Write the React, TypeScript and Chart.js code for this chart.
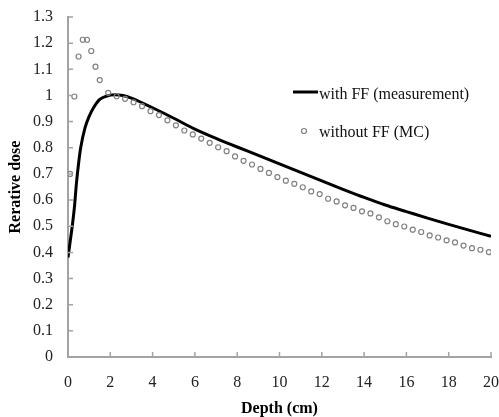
import React, { useEffect, useRef } from "react";
import { Chart, registerables } from "chart.js";

Chart.register(...registerables);

// Measurement with flattening filter (solid line)
const lineDepth = [0, 0.1, 0.2, 0.3, 0.4, 0.5, 0.6, 0.8, 1.0, 1.2, 1.5, 1.8, 2.2, 2.6, 3, 3.5, 4, 5, 6, 7, 8, 9, 10, 11, 12, 13, 14, 15, 16, 17, 18, 19, 20];
const lineDose = [0.38, 0.44, 0.5, 0.57, 0.665, 0.74, 0.8, 0.875, 0.92, 0.952, 0.985, 0.997, 1.003, 1.0, 0.99, 0.972, 0.953, 0.913, 0.871, 0.836, 0.803, 0.771, 0.738, 0.706, 0.673, 0.641, 0.61, 0.581, 0.556, 0.531, 0.507, 0.484, 0.461];

// Monte Carlo without flattening filter (open circles)
const mcDepth = [0.1, 0.3, 0.5, 0.7, 0.9, 1.1, 1.3, 1.5, 1.9, 2.3, 2.7, 3.1, 3.5, 3.9, 4.3, 4.7, 5.1, 5.5, 5.9, 6.3, 6.7, 7.1, 7.5, 7.9, 8.3, 8.7, 9.1, 9.5, 9.9, 10.3, 10.7, 11.1, 11.5, 11.9, 12.3, 12.7, 13.1, 13.5, 13.9, 14.3, 14.7, 15.1, 15.5, 15.9, 16.3, 16.7, 17.1, 17.5, 17.9, 18.3, 18.7, 19.1, 19.5, 19.9];
const mcDose = [0.7, 0.996, 1.149, 1.213, 1.213, 1.17, 1.11, 1.059, 1.01, 0.997, 0.987, 0.974, 0.959, 0.94, 0.925, 0.905, 0.886, 0.866, 0.851, 0.835, 0.819, 0.802, 0.787, 0.767, 0.75, 0.736, 0.719, 0.704, 0.688, 0.674, 0.662, 0.649, 0.633, 0.623, 0.605, 0.595, 0.58, 0.57, 0.557, 0.549, 0.534, 0.519, 0.508, 0.499, 0.487, 0.478, 0.465, 0.457, 0.446, 0.438, 0.426, 0.416, 0.41, 0.401];

const legendLabels = ["with FF (measurement)", "without FF (MC)"];
const xTitle = "Depth (cm)";
const yTitle = "Rerative dose";

const FONT = "'Liberation Serif', 'Times New Roman', serif";
const AXIS_COLOR = "#a3a3a3";

const inwardTicks = {
  id: "inwardTicks",
  afterDraw(chart: any) {
    const { ctx, chartArea, scales } = chart;
    const x = scales.x;
    const y = scales.y;
    ctx.save();
    ctx.strokeStyle = AXIS_COLOR;
    ctx.lineWidth = 1.5;
    ctx.beginPath();
    y.ticks.forEach((t: any) => {
      const py = y.getPixelForValue(t.value);
      ctx.moveTo(chartArea.left, py);
      ctx.lineTo(chartArea.left + 5, py);
    });
    x.ticks.forEach((t: any) => {
      const px = x.getPixelForValue(t.value);
      ctx.moveTo(px, chartArea.bottom);
      ctx.lineTo(px, chartArea.bottom - 5);
    });
    ctx.stroke();
    ctx.restore();
  },
};

const customLegend = {
  id: "customLegend",
  afterDraw(chart: any) {
    const { ctx } = chart;
    ctx.save();
    ctx.font = `16px ${FONT}`;
    ctx.textBaseline = "middle";
    ctx.textAlign = "left";
    ctx.fillStyle = "#111";
    ctx.strokeStyle = "#000";
    ctx.lineWidth = 3;
    ctx.beginPath();
    ctx.moveTo(293, 92);
    ctx.lineTo(318, 92);
    ctx.stroke();
    ctx.fillText(legendLabels[0], 319, 95);
    ctx.strokeStyle = "#808080";
    ctx.lineWidth = 1.2;
    ctx.beginPath();
    ctx.arc(304, 131, 2.5, 0, Math.PI * 2);
    ctx.stroke();
    ctx.fillText(legendLabels[1], 319, 133);
    ctx.restore();
  },
};

export default function App() {
  const ref = useRef<HTMLCanvasElement | null>(null);

  useEffect(() => {
    if (!ref.current) return;
    Chart.defaults.font.family = FONT;
    const chart = new Chart(ref.current, {
      type: "scatter",
      data: {
        datasets: [
          {
            label: legendLabels[0],
            data: lineDepth.map((d, i) => ({ x: d, y: lineDose[i] })),
            showLine: true,
            borderColor: "#000",
            borderWidth: 3,
            pointRadius: 0,
            cubicInterpolationMode: "monotone",
            order: 2,
          } as any,
          {
            label: legendLabels[1],
            data: mcDepth.map((d, i) => ({ x: d, y: mcDose[i] })),
            showLine: false,
            pointStyle: "circle",
            pointRadius: 2.5,
            borderColor: "#808080",
            borderWidth: 1.2,
            backgroundColor: "rgba(0,0,0,0)",
            order: 1,
          } as any,
        ],
      },
      options: {
        responsive: false,
        animation: false,
        layout: { padding: { top: 17, right: 7, left: 0, bottom: 0 } },
        plugins: {
          legend: { display: false },
          tooltip: { enabled: false },
        },
        scales: {
          x: {
            type: "linear",
            min: 0,
            max: 20,
            ticks: {
              stepSize: 2,
              padding: 0,
              color: "#222",
              font: { size: 16, family: FONT },
              maxRotation: 0,
            },
            grid: { display: true, drawOnChartArea: false, drawTicks: true, tickLength: 16, color: "rgba(0,0,0,0)" },
            border: { display: true, color: AXIS_COLOR, width: 2 },
            title: {
              display: true,
              text: xTitle,
              color: "#000",
              font: { size: 16, weight: "bold", family: FONT, lineHeight: 1 },
              padding: { top: 0, bottom: 0 },
            },
            afterFit: (scale: any) => {
              scale.height = 60;
            },
          },
          y: {
            type: "linear",
            min: 0,
            max: 1.3,
            ticks: {
              stepSize: 0.1,
              padding: 0,
              color: "#222",
              font: { size: 16, family: FONT },
              callback: (v: any) => String(Number(Number(v).toFixed(1))),
            },
            grid: { display: true, drawOnChartArea: false, drawTicks: true, tickLength: 15, color: "rgba(0,0,0,0)" },
            border: { display: true, color: AXIS_COLOR, width: 2 },
            title: {
              display: true,
              text: yTitle,
              color: "#000",
              font: { size: 16, weight: "bold", family: FONT, lineHeight: 1 },
              padding: { top: 8, bottom: 0 },
            },
            afterFit: (scale: any) => {
              scale.width = 68;
            },
          },
        },
      },
      plugins: [inwardTicks, customLegend],
    });
    return () => chart.destroy();
  }, []);

  return (
    <div style={{ position: "absolute", left: 0, top: 0, width: 499, height: 417, background: "#fff" }}>
      <canvas ref={ref} width={499} height={417} style={{ display: "block" }} />
    </div>
  );
}
